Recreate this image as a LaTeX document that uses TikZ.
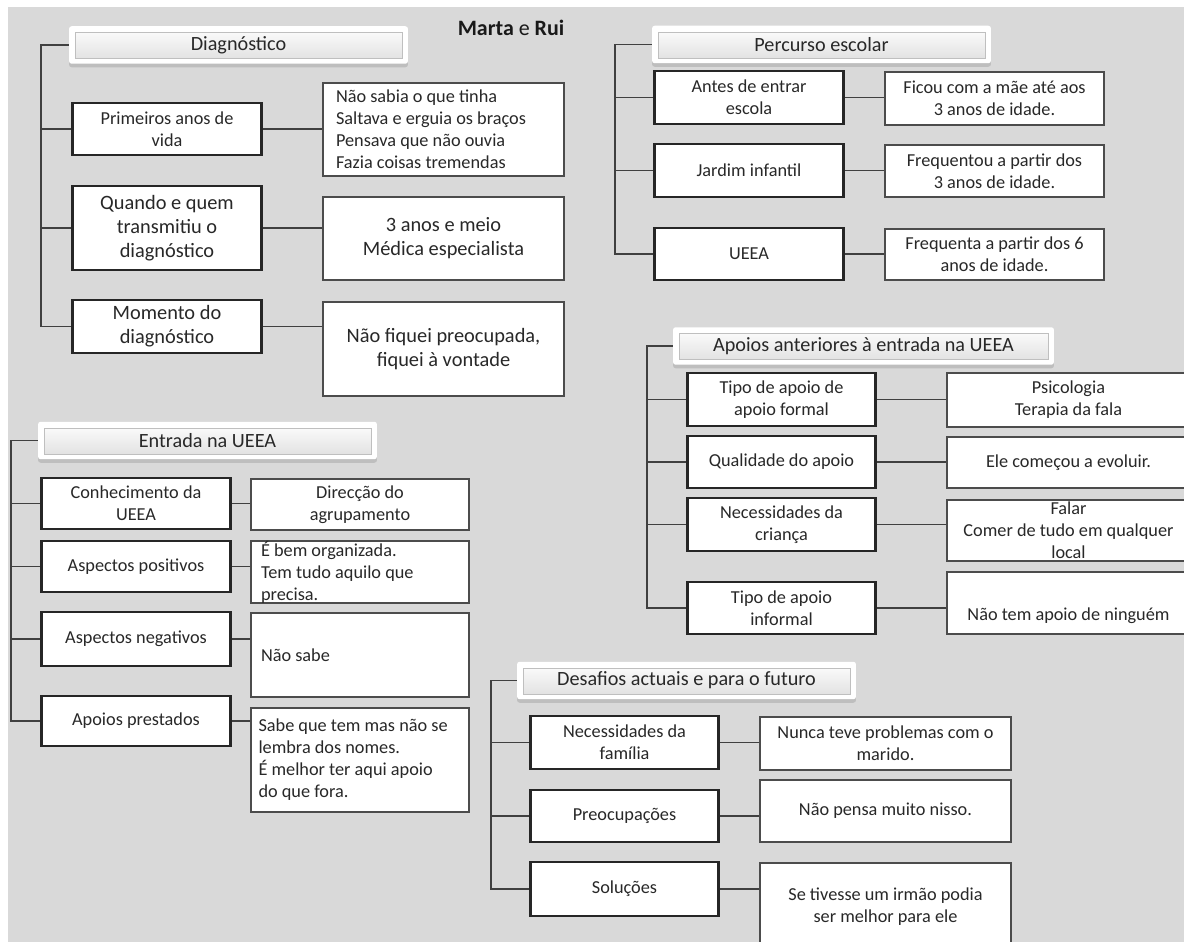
\documentclass[tikz,border=0pt]{standalone}
\usepackage{fontspec}
\setmainfont{Carlito}
\usetikzlibrary{shadows, positioning}
\definecolor{panelgray}{RGB}{217,217,217}
\definecolor{inkgray}{RGB}{40,40,40}
\newcommand{\smallfs}{\fontsize{10.4}{12.5}\selectfont}
\newcommand{\largefs}{\fontsize{11.6}{13.7}\selectfont}
\newcommand{\hdrfs}{\fontsize{11.5}{13}\selectfont}
\newcommand{\titlefs}{\fontsize{12.5}{14}\selectfont}

\begin{document}
\begin{tikzpicture}[
  x=0.02cm, y=-0.02cm,
  hdr/.style={fill=white, rounded corners=1.5pt, minimum width=6.78cm, minimum height=0.75cm, inner sep=0pt, font=\hdrfs, text=inkgray,
    drop shadow={shadow xshift=0pt, shadow yshift=-2pt, opacity=0.3},
    path picture={\shade[sharp corners, top color=white, bottom color=black!13, draw=black!25, line width=0.4pt]
      ([shift={(0.13cm,-0.13cm)}]path picture bounding box.north west) rectangle
      ([shift={(-0.12cm,0.1cm)}]path picture bounding box.south east);}},
  qbox/.style={draw=black!85, line width=1.5pt, fill=white, inner sep=0pt, align=center, font=\smallfs, text=inkgray, minimum width=3.77cm, minimum height=1.06cm},
  abox/.style={draw=black!70, line width=0.8pt, fill=white, inner sep=0pt, align=center, font=\smallfs, text=inkgray},
  big/.style={font=\largefs},
  link/.style={draw=black!75, line width=0.8pt}
]
  \useasboundingbox (0,0) rectangle (1184,942);
  \fill[panelgray] (8,7) rectangle (1184,942);

  % Title
  \node[font=\titlefs, text=black!90] (title) at (511,28) {\textbf{Marta} e \textbf{Rui}};

  % Diagnostico
  \node[hdr] (dgh) at (238.5,45) {Diagnóstico};
  \coordinate (dgs) at (41,45);
  \node[qbox, minimum height=1.04cm] (dg1) at (167,129) {Primeiros anos de\\vida};
  \node[abox, minimum width=4.82cm, minimum height=1.86cm, text width=4.3cm, align=flush left] (dg1r) at (443.5,129.5) {Não sabia o que tinha\\Saltava e erguia os braços\\Pensava que não ouvia\\Fazia coisas tremendas};
  \node[qbox, big, minimum height=1.68cm] (dg2) at (167,228) {Quando e quem\\transmitiu o\\diagnóstico};
  \node[abox, big, minimum width=4.82cm, minimum height=1.66cm] (dg2r) at (443.5,238.5) {3 anos e meio\\Médica especialista};
  \node[qbox, big] (dg3) at (167,326.5) {Momento do\\diagnóstico};
  \node[abox, big, minimum width=4.82cm, minimum height=1.88cm] (dg3r) at (443.5,349) {Não fiquei preocupada,\\fiquei à vontade};

  \draw[link] (dgh.west) -- (dgs) |- (dg3.west) (dgs |- dg1.west) -- (dg1.west) (dgs |- dg2.west) -- (dg2.west);
  \draw[link] (dg1.east) -- (dg1.east -| dg1r.west) (dg2.east) -- (dg2.east -| dg2r.west) (dg3.east) -- (dg3.east -| dg3r.west);

  % Percurso escolar
  \node[hdr] (pch) at (821.5,44.5) {Percurso escolar};
  \coordinate (pcs) at (615,44.5);
  \node[qbox] (pc1) at (749,97.5) {Antes de entrar\\escola};
  \node[abox, minimum width=4.38cm, minimum height=1.06cm] (pc1r) at (994.5,98.5) {Ficou com a mãe até aos\\3 anos de idade.};
  \node[qbox] (pc2) at (749,170.5) {Jardim infantil};
  \node[abox, minimum width=4.38cm, minimum height=1.04cm] (pc2r) at (994.5,171) {Frequentou a partir dos\\3 anos de idade.};
  \node[qbox, minimum height=1.04cm] (pc3) at (749,254) {UEEA};
  \node[abox, minimum width=4.38cm, minimum height=1.02cm] (pc3r) at (994.5,254.5) {Frequenta a partir dos 6\\anos de idade.};

  \draw[link] (pch.west) -- (pcs) |- (pc3.west) (pcs |- pc1.west) -- (pc1.west) (pcs |- pc2.west) -- (pc2.west);
  \draw[link] (pc1.east) -- (pc1.east -| pc1r.west) (pc2.east) -- (pc2.east -| pc2r.west) (pc3.east) -- (pc3.east -| pc3r.west);

  % Entrada na UEEA
  \node[hdr] (eth) at (207.5,440.5) {Entrada na UEEA};
  \coordinate (ets) at (11,440.5);
  \node[qbox, minimum height=1.02cm] (et1) at (136,503.5) {Conhecimento da\\UEEA};
  \node[abox, minimum width=4.36cm, minimum height=1.02cm] (et1r) at (360,504.5) {Direcção do\\agrupamento};
  \node[qbox, minimum height=1.02cm] (et2) at (136,566.5) {Aspectos positivos};
  \node[abox, minimum width=4.36cm, minimum height=1.24cm, text width=3.96cm, align=flush left] (et2r) at (360,572) {É bem organizada.\\Tem tudo aquilo que\\precisa.};
  \node[qbox, minimum height=1.08cm] (et3) at (136,639) {Aspectos negativos};
  \node[abox, minimum width=4.36cm, minimum height=1.68cm, text width=3.96cm, align=flush left] (et3r) at (360,655) {Não sabe};
  \node[qbox, minimum height=1.0cm] (et4) at (136,721) {Apoios prestados};
  \node[abox, minimum width=4.36cm, minimum height=2.08cm, text width=4.06cm, align=flush left] (et4r) at (360,760) {Sabe que tem mas não se\\lembra dos nomes.\\É melhor ter aqui apoio\\do que fora.};

  \draw[link] (eth.west) -- (ets) |- (et4.west) (ets |- et1.west) -- (et1.west) (ets |- et2.west) -- (et2.west) (ets |- et3.west) -- (et3.west);
  \draw[link] (et1.east) -- (et1.east -| et1r.west) (et2.east) -- (et2.east -| et2r.west) (et3.east) -- (et3.east -| et3r.west) (et4.east) -- (et4.east -| et4r.west);

  % Apoios anteriores
  \node[hdr, minimum width=7.62cm] (aph) at (863.5,346) {Apoios anteriores à entrada na UEEA};
  \coordinate (aps) at (647,346);
  \node[qbox] (ap1) at (781.5,399.5) {Tipo de apoio de\\apoio formal};
  \node[abox, minimum width=4.86cm, minimum height=1.08cm] (ap1r) at (1068.5,400) {Psicologia\\Terapia da fala};
  \node[qbox, minimum height=1.04cm] (ap2) at (781.5,462) {Qualidade do apoio};
  \node[abox, minimum width=4.86cm, minimum height=1.02cm] (ap2r) at (1068.5,462.5) {Ele começou a evoluir.};
  \node[qbox] (ap3) at (781.5,524.5) {Necessidades da\\criança};
  \node[abox, minimum width=4.86cm, minimum height=1.22cm] (ap3r) at (1068.5,530.5) {Falar\\Comer de tudo em qualquer\\local};
  \node[qbox, minimum height=1.04cm] (ap4) at (781.5,608) {Tipo de apoio\\informal};
  \node[abox, minimum width=4.86cm, minimum height=1.24cm] (ap4r) at (1068.5,603) {\strut\\Não tem apoio de ninguém};

  \draw[link] (aph.west) -- (aps) |- (ap4.west) (aps |- ap1.west) -- (ap1.west) (aps |- ap2.west) -- (ap2.west) (aps |- ap3.west) -- (ap3.west);
  \draw[link] (ap1.east) -- (ap1.east -| ap1r.west) (ap2.east) -- (ap2.east -| ap2r.west) (ap3.east) -- (ap3.east -| ap3r.west) (ap4.east) -- (ap4.east -| ap4r.west);

  % Desafios
  \node[hdr] (dsh) at (686.5,680.5) {Desafios actuais e para o futuro};
  \coordinate (dss) at (491,680.5);
  \node[qbox] (ds1) at (624.5,742.5) {Necessidades da\\família};
  \node[abox, minimum width=5.02cm, minimum height=1.06cm] (ds1r) at (885.5,743.5) {Nunca teve problemas com o\\marido.};
  \node[qbox, minimum height=1.04cm] (ds2) at (624.5,816) {Preocupações};
  \node[abox, minimum width=5.02cm, minimum height=1.24cm] (ds2r) at (885.5,811) {Não pensa muito nisso.};
  \node[qbox, minimum height=1.08cm] (ds3) at (624.5,889) {Soluções};
  \node[abox, minimum width=5.02cm, minimum height=1.74cm] (ds3r) at (885.5,906.5) {Se tivesse um irmão podia\\ser melhor para ele};

  \draw[link] (dsh.west) -- (dss) |- (ds3.west) (dss |- ds1.west) -- (ds1.west) (dss |- ds2.west) -- (ds2.west);
  \draw[link] (ds1.east) -- (ds1.east -| ds1r.west) (ds2.east) -- (ds2.east -| ds2r.west) (ds3.east) -- (ds3.east -| ds3r.west);
\end{tikzpicture}
\end{document}
